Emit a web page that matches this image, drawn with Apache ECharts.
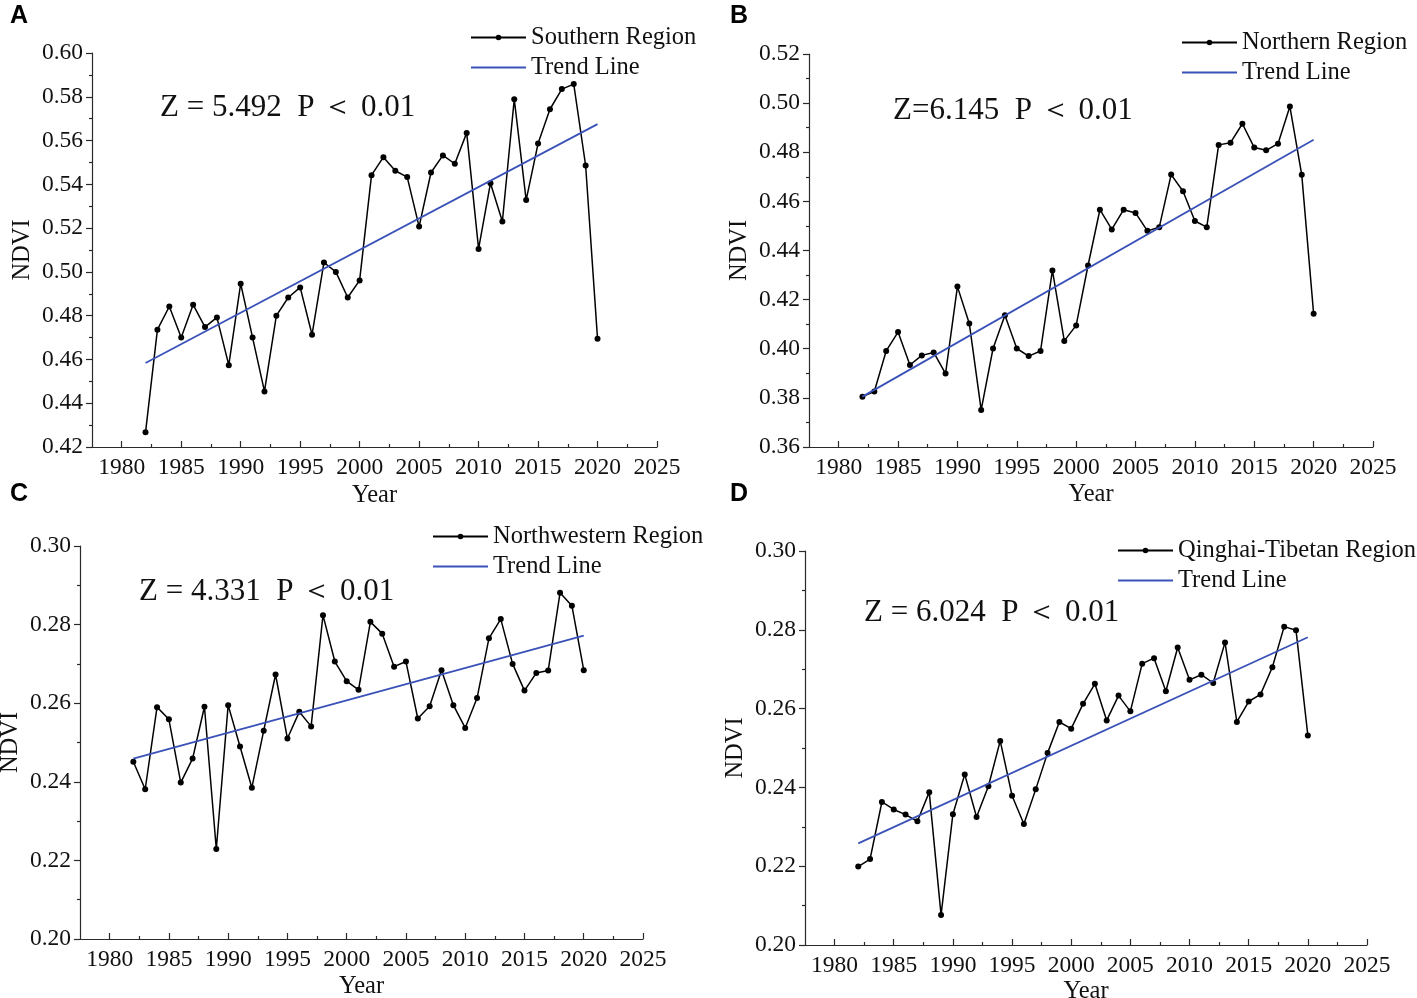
<!DOCTYPE html>
<html><head><meta charset="utf-8">
<script src="https://cdn.jsdelivr.net/npm/echarts@6/dist/echarts.min.js"></script>
<style>html,body{margin:0;padding:0;background:#fff}#c{width:1417px;height:998px}</style>
</head><body><div id="c"></div>
<script>
// ---------------- data ----------------
const years = [1982,1983,1984,1985,1986,1987,1988,1989,1990,1991,1992,1993,1994,1995,1996,1997,1998,1999,2000,2001,2002,2003,2004,2005,2006,2007,2008,2009,2010,2011,2012,2013,2014,2015,2016,2017,2018,2019,2020];
const southern = [0.4267,0.4736,0.4842,0.470,0.485,0.4748,0.4792,0.4574,0.4946,0.470,0.4454,0.480,0.4883,0.4929,0.4713,0.5043,0.500,0.4883,0.4961,0.5442,0.5524,0.5462,0.5433,0.5207,0.5454,0.5532,0.5494,0.5635,0.5105,0.5405,0.523,0.5789,0.5328,0.5586,0.5743,0.5835,0.5858,0.5486,0.4695];
const northern = [0.3805,0.3826,0.3991,0.4068,0.3934,0.3973,0.3985,0.3899,0.4253,0.4103,0.3751,0.4001,0.4136,0.4001,0.397,0.3991,0.4319,0.4032,0.4095,0.4339,0.4566,0.4486,0.4566,0.4553,0.448,0.4495,0.4709,0.4641,0.452,0.4495,0.483,0.4839,0.4916,0.4819,0.4808,0.4835,0.4986,0.4708,0.4142];
const northwestern = [0.2451,0.2381,0.2590,0.2559,0.2398,0.2459,0.2591,0.2229,0.2595,0.2490,0.2385,0.2530,0.2673,0.2510,0.2578,0.2541,0.2824,0.2706,0.2656,0.2634,0.2807,0.2777,0.2693,0.2706,0.2561,0.2592,0.2684,0.2595,0.2537,0.2613,0.2765,0.2814,0.2700,0.2632,0.2677,0.2683,0.2881,0.2848,0.2684];
const qinghai = [0.2199,0.2218,0.2363,0.2344,0.2331,0.2314,0.2388,0.2076,0.2332,0.2433,0.2325,0.2403,0.2518,0.2379,0.2307,0.2395,0.2487,0.2566,0.2549,0.2612,0.2663,0.2570,0.2633,0.2593,0.2714,0.2728,0.2644,0.2755,0.2673,0.2686,0.2665,0.2768,0.2566,0.2618,0.2636,0.2705,0.2808,0.2799,0.2532];
const trendYears = [1982, 2020];
const southernTrend = [0.4584, 0.5675];
const northernTrend = [0.3805, 0.4851];
const northwesternTrend = [0.2459, 0.2772];
const qinghaiTrend = [0.2258, 0.2781];
const xMajorTicks = [1980,1985,1990,1995,2000,2005,2010,2015,2020,2025];
const xMinorTicks = [1982.5,1987.5,1992.5,1997.5,2002.5,2007.5,2012.5,2017.5,2022.5];
const yRangeA = [0.42, 0.60];
const yRangeB = [0.36, 0.52];
const yRangeC = [0.20, 0.30];
const yRangeD = [0.20, 0.30];
const regionNames = ['Southern Region','Northern Region','Northwestern Region','Qinghai-Tibetan Region'];
const trendName = 'Trend Line';
const panelLetters = ['A','B','C','D'];
const statTexts = ['Z = 5.492  P \uFF1C 0.01','Z=6.145  P \uFF1C 0.01','Z = 4.331  P \uFF1C 0.01','Z = 6.024  P \uFF1C 0.01'];
const xAxisName = 'Year';
const yAxisName = 'NDVI';

// ---------------- layout ----------------
const SERIF = "'Liberation Serif','Times New Roman',serif";
const panels = [
  {values: southern, trend: southernTrend, yr: yRangeA, grid:{left:92,top:53,width:565,height:394}, xGap:36, legend:{left:470,top:25}, stat:{x:160,y:108}, letter:{x:10,y:4}},
  {values: northern, trend: northernTrend, yr: yRangeB, grid:{left:809,top:54,width:564,height:393}, xGap:35, legend:{left:1181,top:30}, stat:{x:893,y:111}, letter:{x:730,y:4}},
  {values: northwestern, trend: northwesternTrend, yr: yRangeC, grid:{left:80,top:546,width:563,height:393}, xGap:35, legend:{left:432,top:524}, stat:{x:139,y:592}, letter:{x:10,y:482}},
  {values: qinghai, trend: qinghaiTrend, yr: yRangeD, grid:{left:805,top:551,width:562,height:394}, xGap:32, legend:{left:1117,top:538}, stat:{x:864,y:613}, letter:{x:730,y:482}}
];
const X_MIN = 1977.5, X_MAX = 2025;
const AXIS_COLOR = '#2a2a2a';
const TREND_COLOR = '#3a52b8';
const TICK_FONT = 23.5, NAME_FONT = 24.5, LEGEND_FONT = 24.5;

const grid = [], xAxis = [], yAxis = [], series = [], legend = [], graphic = [];
panels.forEach((p, i) => {
  grid.push(Object.assign({containLabel:false, outerBoundsMode:'none'}, p.grid));
  xAxis.push({
    type:'value', gridIndex:i, min:X_MIN, max:X_MAX,
    name:xAxisName, nameLocation:'middle', nameGap:p.xGap,
    nameTextStyle:{fontFamily:SERIF, fontSize:NAME_FONT, color:'#111'},
    axisLine:{show:true, onZero:false, lineStyle:{color:AXIS_COLOR, width:1.2}},
    axisTick:{show:true, inside:true, length:6, customValues:xMajorTicks, lineStyle:{color:AXIS_COLOR, width:1.2}},
    axisLabel:{show:true, customValues:xMajorTicks, margin:9, fontFamily:SERIF, fontSize:TICK_FONT, color:'#111', formatter:v=>String(v)},
    splitLine:{show:false}
  });
  yAxis.push({
    type:'value', gridIndex:i, min:p.yr[0], max:p.yr[1], interval:0.02,
    name:yAxisName, nameLocation:'middle', nameGap:57, nameRotate:90,
    nameTextStyle:{fontFamily:SERIF, fontSize:NAME_FONT, color:'#111'},
    axisLine:{show:true, onZero:false, lineStyle:{color:AXIS_COLOR, width:1.2}},
    axisTick:{show:true, inside:false, length:6, lineStyle:{color:AXIS_COLOR, width:1.2}},
    minorTick:{show:true, splitNumber:2, length:3, lineStyle:{color:AXIS_COLOR, width:1.2}},
    axisLabel:{margin:9, fontFamily:SERIF, fontSize:TICK_FONT, color:'#111', formatter:v=>v.toFixed(2)},
    splitLine:{show:false}
  });
  series.push({
    type:'line', name:regionNames[i], xAxisIndex:i, yAxisIndex:i,
    data: years.map((y,k)=>[y, p.values[k]]),
    symbol:'circle', symbolSize:6, showSymbol:true,
    lineStyle:{color:'#000', width:1.5}, itemStyle:{color:'#000'},
    animation:false, z:3
  });
  series.push({
    type:'line', name:trendName, xAxisIndex:i, yAxisIndex:i,
    data: trendYears.map((y,k)=>[y, p.trend[k]]),
    symbol:'none', lineStyle:{color:TREND_COLOR, width:1.8}, itemStyle:{color:TREND_COLOR},
    animation:false, z:4
  });
  legend.push({
    orient:'vertical', left:p.legend.left, top:p.legend.top, align:'left',
    itemWidth:55, itemHeight:7, itemGap:5, padding:0,
    data:[regionNames[i], {name:trendName, itemStyle:{opacity:0}}],
    textStyle:{fontFamily:SERIF, fontSize:LEGEND_FONT, color:'#111', lineHeight:24},
    selectedMode:false
  });
  graphic.push({type:'text', left:p.stat.x, top:p.stat.y-16, style:{text:statTexts[i], font:'31px '+SERIF, fill:'#111'}});
  graphic.push({type:'text', left:p.letter.x, top:p.letter.y, style:{text:panelLetters[i], font:"bold 25px 'Liberation Sans', Arial, sans-serif", fill:'#000'}});
});
// overlay grids for the short minor ticks on the x axes
panels.forEach((p, i) => {
  grid.push(Object.assign({containLabel:false, outerBoundsMode:'none'}, p.grid));
  xAxis.push({
    type:'value', gridIndex:4+i, min:X_MIN, max:X_MAX,
    axisLine:{show:false},
    axisTick:{show:true, inside:true, length:3, customValues:xMinorTicks, lineStyle:{color:AXIS_COLOR, width:1.2}},
    axisLabel:{show:false}, splitLine:{show:false}
  });
  yAxis.push({type:'value', gridIndex:4+i, min:0, max:1, show:false});
});

const chart = echarts.init(document.getElementById('c'), null, {renderer:'canvas'});
chart.setOption({backgroundColor:'#fff', animation:false, grid, xAxis, yAxis, series, legend, graphic});
</script></body></html>
